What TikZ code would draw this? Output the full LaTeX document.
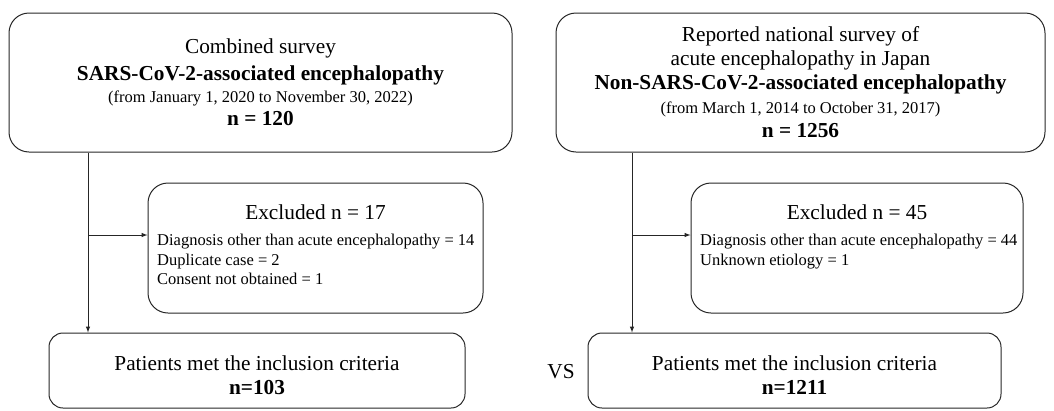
\documentclass[tikz,border=0pt]{standalone}
\usepackage{fontspec}
\setmainfont{Liberation Serif}
\usetikzlibrary{arrows,positioning}

\begin{document}
\begin{tikzpicture}[x=1pt,y=-1pt,
  box/.style={draw=black!85, line width=1pt, rounded corners=20pt, inner sep=0pt},
  bigtxt/.style={font=\fontsize{21.3}{24}\selectfont, align=center},
  listtxt/.style={font=\fontsize{16.5}{19.5}\selectfont, align=left, anchor=north west, inner sep=0pt},
  flow/.style={draw=black!85, line width=1pt, -latex}]
\useasboundingbox (0,0) rectangle (1054,410);

% top boxes
\node[box, bigtxt, minimum width=503pt, minimum height=139pt] (combl) at (260.5,82.5)
  {Combined survey\\[3pt]
   \textbf{SARS-CoV-2-associated encephalopathy}\\[-2pt]
   {\fontsize{16.5}{18}\selectfont (from January 1, 2020 to November 30, 2022)}\\[-1pt]
   \textbf{n = 120}};
\node[box, bigtxt, minimum width=489pt, minimum height=139pt] (natr) at (800.5,82.5)
  {Reported national survey of\\
   acute encephalopathy in Japan\\
   \textbf{Non-SARS-CoV-2-associated encephalopathy}\\
   {\fontsize{16.5}{18}\selectfont (from March 1, 2014 to October 31, 2017)}\\
   \textbf{n = 1256}};

% excluded boxes
\node[box, minimum width=335pt, minimum height=130pt] (exl) at (315.5,248) {};
\node[bigtxt] (exltitle) at (315.5,212) {Excluded n = 17};
\node[listtxt] (exllist) at (157,234)
  {Diagnosis other than acute encephalopathy = 14\\
   Duplicate case = 2\\
   Consent not obtained = 1};
\node[box, minimum width=332pt, minimum height=130pt] (exr) at (857,248) {};
\node[bigtxt] (exrtitle) at (857,212) {Excluded n = 45};
\node[listtxt] (exrlist) at (700,234)
  {Diagnosis other than acute encephalopathy = 44\\
   Unknown etiology = 1};

% inclusion boxes
\node[box, rounded corners=14pt, minimum width=416pt, minimum height=75pt] (incl) at (257,370.5) {};
\node[bigtxt] (incltxt) at (257,375.5) {Patients met the inclusion criteria\\ \textbf{n=103}};
\node[box, rounded corners=14pt, minimum width=413pt, minimum height=75pt] (incr) at (794.5,370.5) {};
\node[bigtxt] (incrtxt) at (794.5,375.5) {Patients met the inclusion criteria\\ \textbf{n=1211}};

\node[bigtxt] (vs) at (561,372) {VS};

% connectors
\coordinate (lsplit) at (88,235);
\coordinate (rsplit) at (632,235);
\draw[flow] (combl.south -| lsplit) -- (incl.north -| lsplit);
\draw[flow] (lsplit) -- (exl.west |- lsplit);
\draw[flow] (natr.south -| rsplit) -- (incr.north -| rsplit);
\draw[flow] (rsplit) -- (exr.west |- rsplit);
\end{tikzpicture}
\end{document}
